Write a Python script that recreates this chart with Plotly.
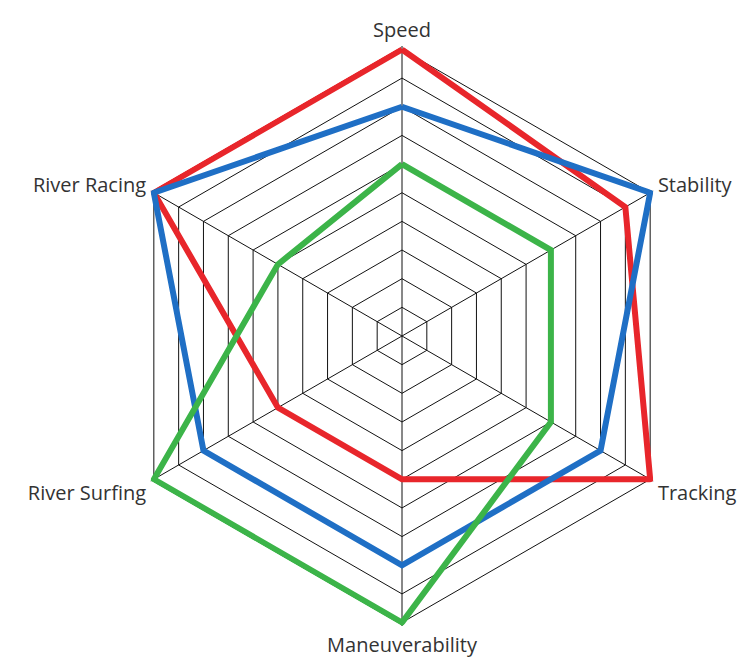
import plotly.graph_objects as go

categories = ["Speed", "Stability", "Tracking", "Maneuverability", "River Surfing", "River Racing"]
red_values = [10, 9, 10, 5, 5, 10]
blue_values = [8, 10, 8, 8, 8, 10]
green_values = [6, 6, 6, 10, 10, 5]
ring_ticks = list(range(0, 11))

series = [
    ("Red", red_values, "#e8262b"),
    ("Blue", blue_values, "#1f6fc5"),
    ("Green", green_values, "#3cb449"),
]

fig = go.Figure()
for name, vals, color in series:
    fig.add_trace(go.Scatterpolar(
        r=vals + vals[:1],
        theta=categories + categories[:1],
        mode="lines",
        name=name,
        line=dict(color=color, width=6),
        cliponaxis=False,
        showlegend=False,
    ))

rmax = 10.12
cx, cy, rad = 394, 328, 290
W, H = 748, 659
fig.update_layout(
    width=W, height=H,
    margin=dict(l=0, r=0, t=0, b=0),
    paper_bgcolor="white",
    plot_bgcolor="white",
    font=dict(family="Open Sans", size=20, color="#333333"),
    polar=dict(
        domain=dict(x=[(cx - rad) / W, (cx + rad) / W],
                    y=[(H - cy - rad) / H, (H - cy + rad) / H]),
        bgcolor="white",
        gridshape="linear",
        radialaxis=dict(range=[0, rmax], tickvals=ring_ticks, showticklabels=False, ticks="",
                        showline=False, gridcolor="#111111", gridwidth=1),
        angularaxis=dict(rotation=90, direction="clockwise", showline=False,
                         gridcolor="#111111",
                         gridwidth=1, ticks="outside", ticklen=1,
                         tickcolor="rgba(0,0,0,0)",
                         tickfont=dict(family="Open Sans", size=20, color="#333333")),
    ),
)

fig.write_html("out.html")
